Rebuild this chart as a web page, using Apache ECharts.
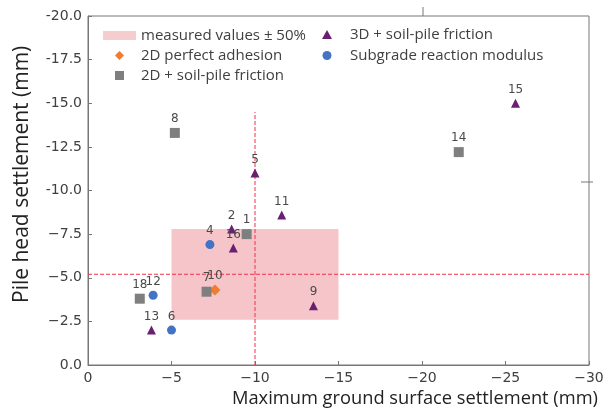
<!DOCTYPE html>
<html>
<head>
<meta charset="utf-8">
<script src="https://cdn.jsdelivr.net/npm/echarts@6/dist/echarts.min.js"></script>
<style>
  html, body { margin: 0; padding: 0; background: #fff; }
  #chart { width: 614px; height: 417px; }
</style>
</head>
<body>
<div id="chart"></div>
<script>
// Данные: [осадка поверхности, осадка головы сваи, номер]
const adhesion2D = [[-7.6, -4.3, '10']];
const friction2D = [[-9.5, -7.5, '1'], [-7.1, -4.2, '7'], [-5.2, -13.3, '8'], [-22.2, -12.2, '14'], [-3.1, -3.8, '18']];
const friction3D = [[-8.6, -7.8, '2'], [-10.0, -11.0, '5'], [-13.5, -3.4, '9'], [-11.6, -8.6, '11'],
                    [-3.8, -2.0, '13'], [-25.6, -15.0, '15'], [-8.7, -6.7, '16']];
const subgrade = [[-7.3, -6.9, '4'], [-5.0, -2.0, '6'], [-3.9, -4.0, '12']];

// Измеренные значения и диапазон ±50%
const measuredBox = [[-5, -2.6], [-15, -7.8]];
const measuredVLine = [[-10, 0], [-10, -14.5]];
const measuredHLine = [[0, -5.2], [-30, -5.2]];

const xTicks = { min: -30, max: 0, step: 5 };
const yTicks = { min: -20, max: 0, step: 2.5 };

const textColor = '#404040';
const fmtMinus = s => s.replace('-', '\u2212');

// Иконки легенды (path сохраняет пропорции)
const icons = {
    diamond: 'path://M5,0 L10,5 L5,10 L0,5 Z',
    square: 'path://M0,0 L10,0 L10,10 L0,10 Z',
    triangle: 'path://M5,0 L10,9 L0,9 Z',
    circle: 'path://M5,0 A5,5 0 1,1 4.99,0 Z'
};

const labelCfg = {
    show: true,
    position: 'top',
    distance: 3,
    color: '#4a4a4a',
    fontFamily: 'DejaVu Sans',
    fontSize: 12,
    formatter: p => p.data[2]
};

function scatter(name, data, symbol, size, color) {
    return {
        name, type: 'scatter', data, symbol, symbolSize: size,
        itemStyle: { color, opacity: 1 },
        label: labelCfg,
        z: 5
    };
}

function dashedLine(data) {
    return {
        type: 'line', data, symbol: 'none', silent: true, z: 3,
        lineStyle: { color: '#f0304a', type: [4, 2], width: 1 }
    };
}

const legendText = { fontFamily: 'Open Sans', fontSize: 15, color: textColor };

const chart = echarts.init(document.getElementById('chart'), null, { renderer: 'canvas' });

const option = {
    backgroundColor: '#fff',
    animation: false,
    grid: { left: 88, right: 25, top: 16, bottom: 52, show: true, borderColor: '#777', borderWidth: 1 },
    legend: [
        {
            orient: 'vertical', left: 103, top: 28, padding: 0, itemGap: 5, itemWidth: 33, itemHeight: 9,
            symbolKeepAspect: true, textStyle: legendText,
            data: [
                { name: 'measured values \u00b1 50%', icon: 'rect' },
                { name: '2D perfect adhesion', icon: icons.diamond },
                { name: '2D + soil-pile friction', icon: icons.square }
            ]
        },
        {
            orient: 'vertical', left: 322, top: 27, padding: 0, itemGap: 6, itemWidth: 36, itemHeight: 9,
            symbolKeepAspect: true, textStyle: legendText,
            data: [
                { name: '3D + soil-pile friction', icon: icons.triangle },
                { name: 'Subgrade reaction modulus', icon: icons.circle }
            ]
        }
    ],
    xAxis: {
        type: 'value', min: xTicks.min, max: xTicks.max, interval: xTicks.step, inverse: true,
        splitLine: { show: false },
        axisLine: { show: true, onZero: false, lineStyle: { color: '#777' } },
        axisTick: { show: true, inside: true, length: 4, lineStyle: { color: '#777' } },
        axisLabel: { fontFamily: 'DejaVu Sans', fontSize: 14, color: textColor, margin: 6,
                     formatter: v => fmtMinus(String(v)) }
    },
    yAxis: {
        type: 'value', min: yTicks.min, max: yTicks.max, interval: yTicks.step, inverse: true,
        splitLine: { show: false },
        axisLine: { show: true, onZero: false, lineStyle: { color: '#777' } },
        axisTick: { show: true, inside: true, length: 4, lineStyle: { color: '#777' } },
        axisLabel: { fontFamily: 'DejaVu Sans', fontSize: 14, color: textColor, margin: 6,
                     formatter: v => v <= -10 ? v.toFixed(1) : fmtMinus(v.toFixed(1)) }
    },
    series: [
        {
            name: 'measured values \u00b1 50%', type: 'scatter', data: [],
            itemStyle: { color: '#f4c0c3' },
            markArea: {
                silent: true,
                itemStyle: { color: 'rgba(237,150,156,0.55)' },
                data: [[{ coord: measuredBox[0] }, { coord: measuredBox[1] }]]
            }
        },
        dashedLine(measuredVLine),
        dashedLine(measuredHLine),
        scatter('2D perfect adhesion', adhesion2D, 'diamond', 11, '#ed7d31'),
        scatter('2D + soil-pile friction', friction2D, 'rect', 10, '#7f7f7f'),
        scatter('3D + soil-pile friction', friction3D, 'triangle', 9, '#6a1f72'),
        scatter('Subgrade reaction modulus', subgrade, 'circle', 9, '#4472c4')
    ],
    graphic: [
        { type: 'text', right: 16, top: 390,
          style: { text: 'Maximum ground surface settlement (mm)', font: '18.3px "Open Sans"', fill: '#222' } },
        { type: 'text', x: 12, y: 303, rotation: Math.PI / 2,
          style: { text: 'Pile head settlement (mm)', font: '21px "Open Sans"', fill: '#222' } },
        { type: 'line', shape: { x1: 423, y1: 7, x2: 423, y2: 16 }, style: { stroke: '#777', lineWidth: 1 } },
        { type: 'line', shape: { x1: 581, y1: 182, x2: 593, y2: 182 }, style: { stroke: '#777', lineWidth: 1 } }
    ]
};

chart.setOption(option);
</script>
</body>
</html>
